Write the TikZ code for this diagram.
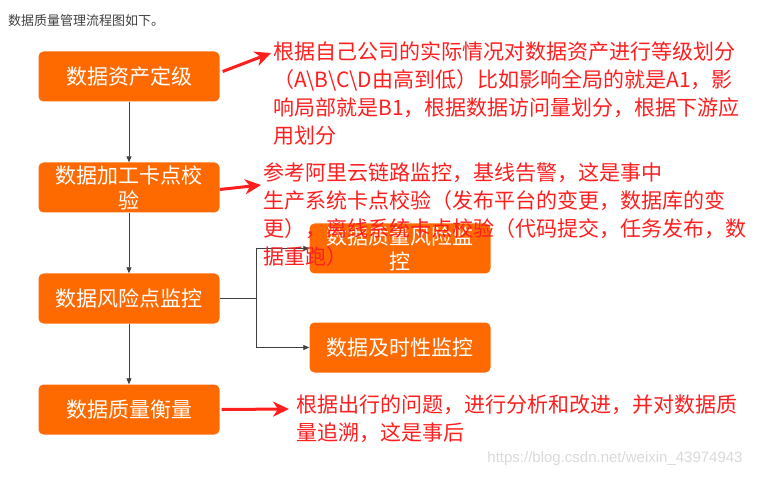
\documentclass[tikz,border=0pt]{standalone}
\usepackage{fontspec}
\setmainfont{Noto Sans CJK SC}
\newfontfamily\wmfont{Liberation Sans}
\usetikzlibrary{arrows.meta}
\definecolor{boxorange}{HTML}{FF6A00}
\definecolor{notered}{HTML}{FF1E1E}
\definecolor{flowgray}{HTML}{404040}
\begin{document}
\begin{tikzpicture}[x=1pt, y=-1pt,
    box/.style={fill=boxorange, rounded corners=5pt, minimum width=181pt, minimum height=50pt, text=white, align=center, inner sep=0pt, font=\fontsize{21}{25}\selectfont},
    note/.style={anchor=north west, inner sep=0pt, align=left, text=notered, font=\fontsize{21}{28}\selectfont},
    flow/.style={draw=flowgray, line width=0.8pt, -{Triangle[length=6pt,width=5pt]}},
    bigarrow/.style={draw=notered, line width=3pt, -{Stealth[length=16pt,width=15pt,inset=5pt]}}]
                      \useasboundingbox (0,0) rectangle (760,478);
                      \node[anchor=west, inner sep=0pt, text=flowgray, font=\fontsize{13}{15}\selectfont] (title) at (8,21) {数据质量管理流程图如下。};

                      \node[box] (define) at (129,76.5) {数据资产定级};
                      \node[box] (check) at (129,187.5) {数据加工卡点校\\验};
                      \node[box] (risk) at (129,298.5) {数据风险点监控};
                      \node[box] (measure) at (129,409.5) {数据质量衡量};
                      \node[box] (riskmon) at (400,248.5) {数据质量风险监\\控};
                      \node[box] (timely) at (400,347.5) {数据及时性监控};
                      \coordinate (split) at (256,298.5);

                      \draw[flow] (define) -- (check);
                      \draw[flow] (check) -- (risk);
                      \draw[flow] (risk) -- (measure);
                      \draw[flow] (risk.east) -- (split) |- (riskmon.west);
                      \draw[flow] (split) |- (timely.west);

                      \node[note] (gradenote) at (273,42) {根据自己公司的实际情况对数据资产进行等级划分\\（A\textbackslash B\textbackslash C\textbackslash D由高到低）比如影响全局的就是A1，影\\响局部就是B1，根据数据访问量划分，根据下游应\\用划分};
                      \node[note] (checknote) at (263,163) {参考阿里云链路监控，基线告警，这是事中\\生产系统卡点校验（发布平台的变更，数据库的变\\更），离线系统卡点校验（代码提交，任务发布，数\\据重跑）};
                      \node[note] (measurenote) at (296,395) {根据出行的问题，进行分析和改进，并对数据质\\量追溯，这是事后};
                      \coordinate (gradetip) at (271,53);
                      \coordinate (checktip) at (261,185);
                      \coordinate (measuretip) at (289,409);

                      \draw[bigarrow] ([shift={(3pt,5pt)}]define.east) -- (gradetip);
                      \draw[bigarrow] ([yshift=-2pt]check.east) -- (checktip);
                      \draw[bigarrow] ([xshift=2pt]measure.east) -- (measuretip);

                      \node[text=black!15, font=\wmfont\fontsize{15}{17}\selectfont, inner sep=0pt] (mark) at (615,459) {https://blog.csdn.net/weixin\_43974943};
                  \end{tikzpicture}
\end{document}
